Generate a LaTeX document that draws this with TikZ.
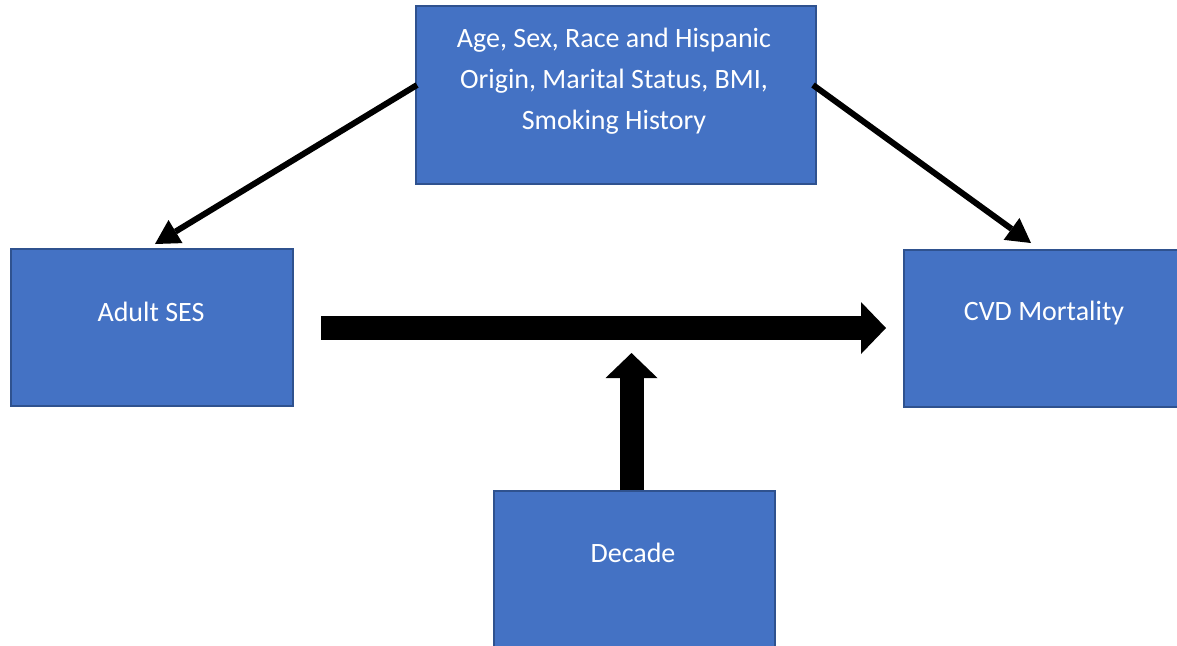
\documentclass[tikz,border=0pt]{standalone}
\usepackage{fontspec}
\setmainfont{Carlito}
\usetikzlibrary{arrows.meta,calc}
\definecolor{boxfill}{HTML}{4472C4}
\definecolor{boxline}{HTML}{2F528F}
\tikzset{
 box/.style={draw=boxline, fill=boxfill, line width=1.2pt, rectangle, anchor=north west, inner sep=0pt},
 lbl/.style={text=white, font=\fontsize{14}{20.5}\selectfont, align=center, inner sep=0pt},
 thinarrow/.style={line width=3pt, -{Triangle[length=12pt,width=13.5pt,line width=0pt]}},
 blockarrow/.style={line width=12pt, -{Triangle[length=12.5pt,width=26pt,line width=0pt]}},
}
\begin{document}
\begin{tikzpicture}[x=0.5pt,y=-0.5pt]
\clip (0,0) rectangle (1177,645);
\fill[white] (0,0) rectangle (1177,645);
% boxes
\node[box, minimum width=200pt, minimum height=89pt] (conf) at (415,5) {};
\node[box, minimum width=141pt, minimum height=78.5pt] (ses) at (10,248) {};
\node[box, minimum width=141pt, minimum height=78.5pt] (cvd) at (903,249) {};
\node[box, minimum width=140.5pt, minimum height=78.5pt] (dec) at (493,490) {};
% labels
\node[lbl] (conftext) at (614,81.5) {Age, Sex, Race and Hispanic\\Origin, Marital Status, BMI,\\Smoking History};
\node[lbl] (sestext) at (151,312) {Adult SES};
\node[lbl] (cvdtext) at (1044,313.5) {CVD Mortality};
\node[lbl] (dectext) at (633,552.5) {Decade};
% connector end points
\coordinate (c1s) at (417,85);
\coordinate (c1e) at (155,244);
\coordinate (c2s) at (813,85);
\coordinate (c2e) at (1031,243);
\coordinate (hs) at (321,328);
\coordinate (he) at (886,328);
\coordinate (vs) at (631.5,490);
\coordinate (ve) at (631.5,353);
% arrows
\draw[thinarrow] (c1s) -- (c1e);
\draw[thinarrow] (c2s) -- (c2e);
\draw[blockarrow] (hs) -- (he);
\draw[blockarrow] (vs) -- (ve);
\end{tikzpicture}
\end{document}
